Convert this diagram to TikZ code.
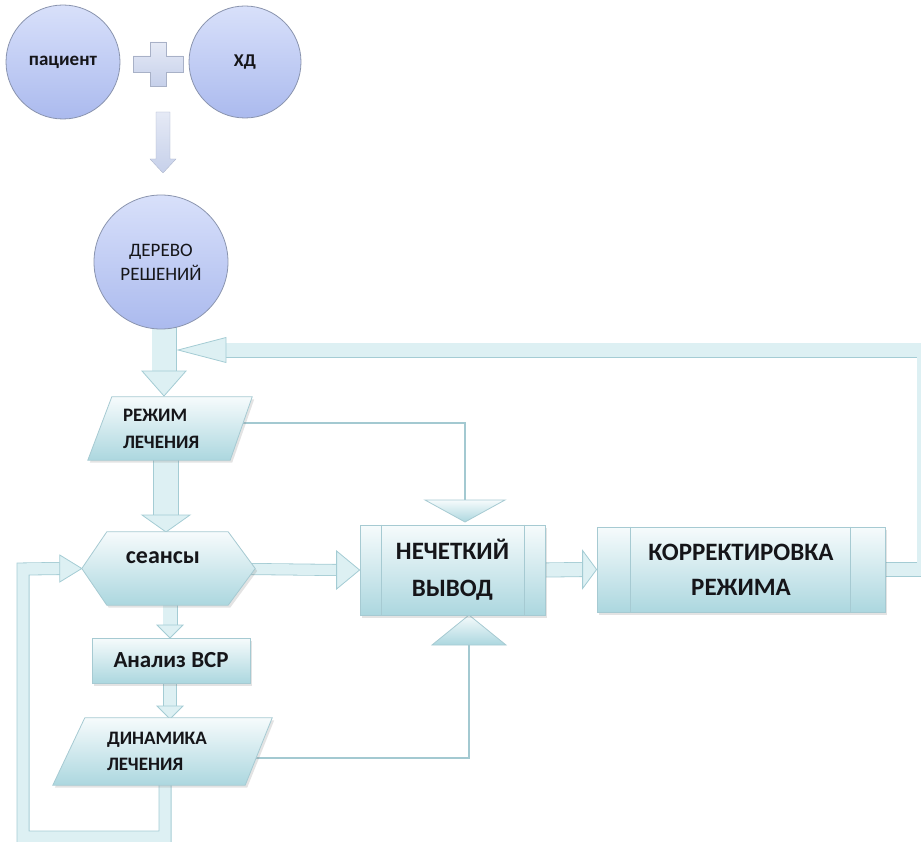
\documentclass[tikz,border=0pt]{standalone}
\usepackage{fontspec}
\setmainfont{Carlito}
\usetikzlibrary{calc,shadows}
\pgfdeclarelayer{bg}
\pgfdeclarelayer{shp}
\pgfsetlayers{bg,shp,main}
\definecolor{cirtop}{HTML}{D8E0FA}
\definecolor{cirbot}{HTML}{ABBAEE}
\definecolor{cirline}{HTML}{8A94AE}
\definecolor{boxtop}{HTML}{F6FBFC}
\definecolor{boxbot}{HTML}{ACD7DF}
\definecolor{boxline}{HTML}{A6CAD2}
\definecolor{bandfill}{HTML}{DDF0F3}
\definecolor{bandline}{HTML}{A4CCD4}
\definecolor{lav}{HTML}{C6D0EA}
\definecolor{thinline}{HTML}{A3C9D1}
\definecolor{txt}{HTML}{151519}
\newcommand{\bhead}[4]{\begin{scope}[shift={(#1)},rotate=#2]\path[head] (0,0) -- (-#3,#4) -- (-#3,-#4) -- cycle;\end{scope}}
\begin{document}
\begin{tikzpicture}[x=1pt,y=-1pt,
  circ/.style={circle, draw=cirline, line width=0.8pt, top color=cirtop, bottom color=cirbot, inner sep=0pt, align=center, text=txt},
  shapebg/.style={draw=boxline, line width=0.8pt, top color=boxtop, bottom color=boxbot, drop shadow={shadow xshift=2pt, shadow yshift=-2.5pt, opacity=0.22}},
  trishape/.style={draw=boxline, line width=0.8pt, top color=boxtop, bottom color=boxbot},
  frame/.style={rectangle, inner sep=0pt, text=txt},
  box/.style={rectangle, inner sep=0pt, align=center, text=txt, draw=boxline, line width=0.8pt, top color=boxtop, bottom color=boxbot, drop shadow={shadow xshift=2pt, shadow yshift=-2.5pt, opacity=0.22}},
  band/.style={draw=bandline, line width=0.8pt, double=bandfill, double distance=#1, line join=miter},
  head/.style={draw=bandline, line width=0.8pt, fill=bandfill, line join=miter},
  lavfill/.style={top color=lav!45!white, bottom color=lav, draw=lav!85!black, line width=0.3pt},
  thinln/.style={draw=thinline, line width=1.1pt}]
\useasboundingbox (0,0) rectangle (921,842);

% circles
\node[circ, minimum size=114pt, font=\bfseries\fontsize{19}{22}\selectfont] (pac) at (63,62) {пациент};
\node[circ, minimum size=112pt, font=\bfseries\fontsize{18}{22}\selectfont] (hd) at (245,62) {ХД};
\node[circ, minimum size=134pt, font=\fontsize{19}{24}\selectfont] (tree) at (161,262) {ДЕРЕВО\\РЕШЕНИЙ};

% plus and first arrow
\coordinate (plus) at (158,64);
\path[lavfill] (plus) ++(-8,-22) -- ++(16,0) -- ++(0,14) -- ++(17,0) -- ++(0,16) -- ++(-17,0) -- ++(0,14) -- ++(-16,0) -- ++(0,-14) -- ++(-17,0) -- ++(0,-16) -- ++(17,0) -- cycle;
\coordinate (a1) at (163,112);
\path[lavfill] (a1) ++(-7,0) -- ++(14,0) -- ++(0,47) -- ++(6,0) -- ++(-13,14) -- ++(-13,-14) -- ++(6,0) -- cycle;

% flowchart nodes
\node[frame, text width=94pt, inner xsep=35pt, minimum height=63pt, align=left, font=\bfseries\fontsize{19}{27}\selectfont] (rez) at (170,428.5) {РЕЖИМ\\ЛЕЧЕНИЯ};
\node[frame, minimum width=173pt, minimum height=73pt] (seansy) at (168.5,568.5) {};
\node[frame, font=\bfseries\fontsize{24}{28}\selectfont] (seansyt) at (163,558) {сеансы};
\node[box, minimum width=158pt, minimum height=45pt, font=\bfseries\fontsize{23}{27}\selectfont] (analiz) at (171,660.5) {Анализ ВСР};
\node[frame, text width=111pt, inner xsep=54pt, minimum height=67pt, align=left, font=\bfseries\fontsize{19}{26}\selectfont] (dyn) at (162.5,751.5) {ДИНАМИКА\\ЛЕЧЕНИЯ};
\node[box, minimum width=185pt, minimum height=90pt, font=\bfseries\fontsize{25}{37}\selectfont] (nech) at (452.5,570) {НЕЧЕТКИЙ\\ВЫВОД};
\node[box, minimum width=288pt, minimum height=85pt, font=\bfseries\fontsize{25}{35}\selectfont] (korr) at (741,569.5) {КОРРЕКТИРОВКА\\РЕЖИМА};
\draw[boxline, line width=0.8pt] ($(nech.north west)+(22,0)$) -- ($(nech.south west)+(22,0)$);
\draw[boxline, line width=0.8pt] ($(nech.north east)+(-21,0)$) -- ($(nech.south east)+(-21,0)$);
\draw[boxline, line width=0.8pt] ($(korr.north west)+(34,0)$) -- ($(korr.south west)+(34,0)$);
\draw[boxline, line width=0.8pt] ($(korr.north east)+(-35,0)$) -- ($(korr.south east)+(-35,0)$);

\coordinate (trT) at (465,500);
\coordinate (trB) at (469,645);

\begin{pgfonlayer}{shp}
\path[shapebg] ($(rez.north west)+(24,0)$) -- (rez.north east) -- ($(rez.south east)+(-22,0)$) -- (rez.south west) -- cycle;
\path[shapebg] (seansy.west) -- ($(seansy.north west)+(25,0)$) -- ($(seansy.north east)+(-27,0)$) -- (seansy.east) -- ($(seansy.south east)+(-27,0)$) -- ($(seansy.south west)+(25,0)$) -- cycle;
\path[shapebg] ($(dyn.north west)+(32,0)$) -- (dyn.north east) -- ($(dyn.south east)+(-27,0)$) -- (dyn.south west) -- cycle;
\path[trishape] ($(trT)+(-40,0)$) -- ($(trT)+(40,0)$) -- ($(trT)+(0,22)$) -- cycle;
\path[trishape] ($(trB)+(-37,0)$) -- ($(trB)+(37,0)$) -- ($(trB)+(0,-30)$) -- cycle;
\end{pgfonlayer}

% connector points
\coordinate (rezR) at (243,423);
\coordinate (dynR) at (256,758);
\coordinate (b1s) at (164,315);
\coordinate (b1t) at (164,396);
\coordinate (fbA) at (924,569.5);
\coordinate (fbB) at (924,350);
\coordinate (fbT) at (178,350);
\coordinate (b3s) at (166,458);
\coordinate (b3t) at (166,532);
\coordinate (lpA) at (165,780);
\coordinate (lpB) at (165,837);
\coordinate (lpC) at (23,837);
\coordinate (lpD) at (23,569);
\coordinate (b5s) at (250,569);
\coordinate (b6s) at (170,600);
\coordinate (b6t) at (170,638);
\coordinate (b7s) at (170,680);
\coordinate (b7t) at (170,719);

\begin{pgfonlayer}{bg}
\draw[thinln] (rezR) -| (trT);
\draw[thinln] (dynR) -| (trB);
\draw[band=23.4pt] (b1s) -- ($(b1t)+(0,-25)$);
\draw[band=13.4pt] (korr.east) -- (fbA) -- (fbB) -- ($(fbT)+(48,0)$);
\draw[band=24.4pt] (b3s) -- ($(b3t)+(0,-17)$);
\draw[band=11.4pt] (lpA) -- (lpB) -- (lpC) -- (lpD) -- ($(seansy.west)+(-22,0)$);
\draw[band=10.4pt] (b5s) -- ($(nech.west)+(-23,0)$);
\draw[band=13.4pt] (b6s) -- ($(b6t)+(0,-13)$);
\draw[band=12.4pt] (b7s) -- ($(b7t)+(0,-13)$);
\draw[band=13.4pt] (nech.east) -- ($(korr.west)+(-14,0)$);
\bhead{b1t}{-90}{25}{22}
\bhead{fbT}{180}{48}{12.5}
\bhead{b3t}{-90}{17}{24}
\bhead{seansy.west}{0}{22}{13.5}
\bhead{nech.west}{0}{23}{19}
\bhead{b6t}{-90}{13}{13}
\bhead{b7t}{-90}{13}{13}
\bhead{korr.west}{0}{14}{19}
\end{pgfonlayer}
\end{tikzpicture}
\end{document}
